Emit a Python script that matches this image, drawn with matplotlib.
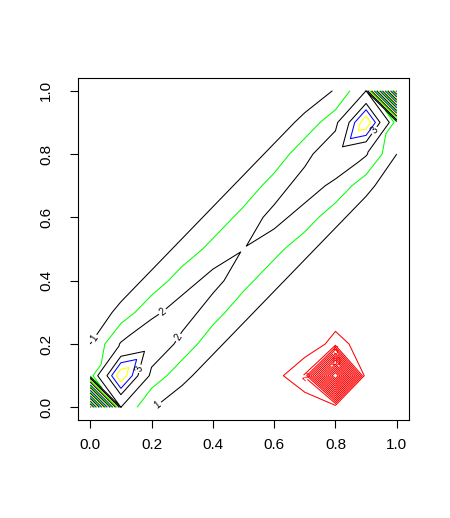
import numpy as np
import matplotlib
matplotlib.use("Agg")
import matplotlib.pyplot as plt
import matplotlib.tri as mtri

plt.rcParams["font.family"] = ["Liberation Sans", "DejaVu Sans"]

# grid of the main (diagonal) density, rows = y, columns = x
grid_x = [0.0, 0.1, 0.2, 0.3, 0.4, 0.5, 0.6, 0.7, 0.8, 0.9, 1.0]
grid_y = [0.0, 0.1, 0.2, 0.3, 0.4, 0.5, 0.6, 0.7, 0.8, 0.9, 1.0]
dens = [
    [24.5, 2.0, 1.05, 0.55, 0.3, 0.15, 0.08, 0.05, 0.03, 0.03, 0.02],
    [1.2, 4.5, 1.8, 1.2, 0.6, 0.3, 0.15, 0.08, 0.05, 0.03, 0.03],
    [1.0, 2.05, 2.55, 1.8, 1.2, 0.6, 0.3, 0.15, 0.08, 0.05, 0.03],
    [0.5, 1.2, 1.85, 2.3, 1.7, 1.2, 0.6, 0.3, 0.15, 0.08, 0.05],
    [0.3, 0.6, 1.2, 1.75, 2.2, 1.65, 1.2, 0.6, 0.3, 0.15, 0.08],
    [0.15, 0.3, 0.6, 1.2, 1.65, 1.98, 1.65, 1.2, 0.6, 0.3, 0.15],
    [0.08, 0.15, 0.3, 0.6, 1.2, 1.65, 2.2, 1.75, 1.2, 0.6, 0.3],
    [0.05, 0.08, 0.15, 0.3, 0.6, 1.2, 1.7, 2.3, 1.85, 1.2, 0.5],
    [0.03, 0.05, 0.08, 0.15, 0.3, 0.6, 1.2, 1.8, 2.55, 2.05, 1.0],
    [0.03, 0.03, 0.05, 0.08, 0.15, 0.3, 0.6, 1.2, 1.8, 4.5, 1.2],
    [0.02, 0.03, 0.03, 0.05, 0.08, 0.15, 0.3, 0.55, 1.05, 2.0, 24.5],
]
# labelled black levels, then the unlabelled coloured ones
label_levels = [1, 2, 3]
other_levels = [1.5, 3.5, 4] + list(range(5, 25))
other_colors = ["#00ff00", "blue", "yellow"] + \
    ["#00ff00", "black", "yellow", "blue"] * 5
# where R put the labels of levels 1, 2 and 3
dens_label_spots = [(0.01, 0.22), (0.21, 0.02), (0.22, 0.32), (0.32, 0.2),
                    (0.13, 0.13), (0.92, 0.88)]

# small peaked density near (0.8, 0.1)
peak_x = [0.5, 0.6, 0.7, 0.8, 0.9, 1.0]
peak_y = [0.0, 0.1, 0.2, 0.3, 0.4]
peak = [
    [0, 0, 0, 0, 0, 0],
    [0, 0.53, 2.1, 16.5, 0, 0],
    [0, 0, 0.2, 1.4, 0.5, 0],
    [0, 0, 0, 0.4, 0, 0],
    [0, 0, 0, 0, 0, 0],
]
peak_levels = list(range(1, 16))

# split each grid cell into two triangles along the diagonal
# (corner cells are split the other way)
nx, ny = len(grid_x), len(grid_y)
xx, yy = np.meshgrid(grid_x, grid_y)
triangles = []
for j in range(ny - 1):
    for i in range(nx - 1):
        a = j * nx + i
        b = a + 1
        d = a + nx
        c = d + 1
        if (i == j == 0) or (i == j == nx - 2):
            triangles += [[a, b, d], [b, c, d]]
        else:
            triangles += [[a, b, c], [a, c, d]]
tri = mtri.Triangulation(xx.ravel(), yy.ravel(), triangles)
z = np.array(dens).ravel()

fig = plt.figure(figsize=(4.5, 5.18), dpi=100)
ax = fig.add_axes([0.1733, 0.1892, 0.7356, 0.660])

ax.tricontour(tri, z, levels=other_levels, colors=other_colors, linewidths=0.75)
cs = ax.tricontour(tri, z, levels=label_levels, colors="black", linewidths=0.75)
ax.clabel(cs, fmt="%g", fontsize=7, inline=True, inline_spacing=2,
          manual=dens_label_spots)

cr = ax.contour(peak_x, peak_y, np.array(peak), levels=peak_levels,
                colors="red", linewidths=0.75)
ax.clabel(cr, levels=[2, 5, 10], fmt="%g", fontsize=7, inline=True, inline_spacing=1)

ax.set_xlim(-0.04, 1.04)
ax.set_ylim(-0.04, 1.04)
ticks = [0.0, 0.2, 0.4, 0.6, 0.8, 1.0]
ax.set_xticks(ticks)
ax.set_yticks(ticks)
ax.set_xticklabels(["%.1f" % t for t in ticks], fontsize=11)
ax.set_yticklabels(["%.1f" % t for t in ticks], fontsize=11, rotation=90, va="center")
ax.tick_params(axis="x", length=6, width=0.8, pad=7)
ax.tick_params(axis="y", length=6, width=0.8, pad=12)
for s in ax.spines.values():
    s.set_linewidth(0.8)

fig.savefig("out.png", dpi=100)
